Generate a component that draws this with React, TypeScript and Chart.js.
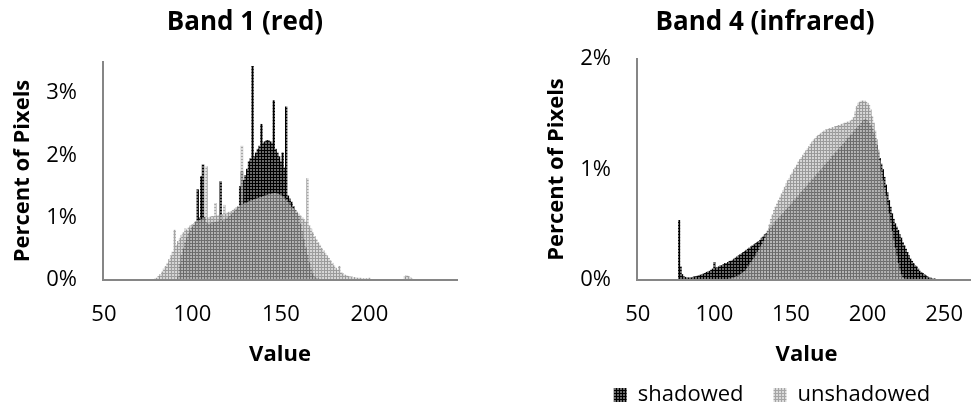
import React, { useEffect, useRef } from "react";
import { Chart, registerables } from "chart.js";

Chart.register(...registerables);

const FONT = '"Open Sans", "Noto Sans", sans-serif';

// ---------- text ----------
const band1Title = "Band 1 (red)";
const band4Title = "Band 4 (infrared)";
const yAxisTitle = "Percent of Pixels";
const xAxisTitle = "Value";
const shadowedName = "shadowed";
const unshadowedName = "unshadowed";

// ---------- tick values ----------
const band1XTicks = [50, 100, 150, 200];
const band1YTicks = [0, 1, 2, 3];
const band4XTicks = [50, 100, 150, 200, 250];
const band4YTicks = [0, 1, 2];

// ---------- Band 1 (red): percent of pixels per integer value ----------
const band1ShadowedStart = 92;
const band1Shadowed = [
  0.05, 0.25, 0.4, 0.5, 0.6, 0.68, 0.75, 0.8, 0.85, 0.88,
  0.93, 1.45, 1.0, 1.66, 1.85, 1.0, 0.92, 0.9, 0.9, 0.92,
  0.92, 0.93, 0.93, 0.95, 1.58, 0.95, 0.96, 0.98, 1.0, 1.02,
  1.05, 1.08, 1.1, 1.14, 1.17, 1.5, 1.74, 1.6, 1.68, 1.78,
  1.9, 1.95, 3.43, 1.98, 2.04, 2.1, 2.15, 2.5, 2.2, 2.22,
  2.24, 2.24, 2.22, 2.2, 2.88, 2.1, 2.04, 1.98, 1.9, 2.04,
  1.8, 2.78, 1.35, 1.3, 1.25, 1.18, 1.12, 1.07, 1.02, 0.9,
  0.78, 0.65, 0.52, 0.4, 0.28, 0.18, 0.1, 0.05, 0.03, 0.02,
  0.01,
];
const band1UnshadowedStart = 78;
const band1Unshadowed = [
  0.01, 0.02, 0.03, 0.06, 0.09, 0.13, 0.18, 0.22, 0.27, 0.33,
  0.39, 0.45, 0.8, 0.56, 0.62, 0.67, 0.72, 0.76, 0.82, 0.8,
  0.84, 0.87, 0.89, 0.91, 0.93, 0.95, 0.96, 0.97, 0.98, 0.99,
  1.82, 1.0, 1.01, 1.02, 1.02, 1.23, 1.03, 1.04, 1.04, 1.05,
  1.2, 1.06, 1.08, 1.09, 1.1, 1.12, 1.14, 1.16, 1.18, 1.2,
  2.15, 1.22, 1.23, 1.24, 1.26, 1.27, 1.28, 1.29, 1.3, 1.31,
  1.32, 1.33, 1.34, 1.35, 1.36, 1.37, 1.38, 1.38, 1.39, 1.39,
  1.38, 1.37, 1.36, 1.34, 1.31, 1.28, 1.25, 1.21, 1.17, 1.14,
  1.12, 1.09, 1.06, 1.03, 1.0, 0.97, 0.93, 1.63, 0.87, 0.82,
  0.76, 0.7, 0.65, 0.6, 0.56, 0.51, 0.47, 0.43, 0.39, 0.35,
  0.31, 0.27, 0.23, 0.19, 0.16, 0.22, 0.12, 0.1, 0.08, 0.07,
  0.06, 0.05, 0.05, 0.04, 0.04, 0.03, 0.03, 0.03, 0.02, 0.02,
  0.02, 0.02, 0.03, 0.01, 0.01, 0.01, 0.01, 0.01, 0.01, 0.01,
  0.01, 0.01, 0.01, 0.01, 0.01, 0.01, 0.01, 0.01, 0.01, 0.01,
  0.01, 0.01, 0.05, 0.07, 0.06, 0.04, 0.02, 0.01,
];

// ---------- Band 4 (infrared) ----------
const band4ShadowedStart = 77;
const band4Shadowed = [
  0.54, 0.12, 0.05, 0.03, 0.025, 0.02, 0.02, 0.02, 0.02, 0.025,
  0.03, 0.03, 0.035, 0.04, 0.045, 0.05, 0.055, 0.06, 0.07, 0.075,
  0.08, 0.09, 0.1, 0.16, 0.11, 0.11, 0.12, 0.13, 0.13, 0.14,
  0.15, 0.15, 0.16, 0.17, 0.17, 0.18, 0.19, 0.2, 0.21, 0.22,
  0.23, 0.24, 0.25, 0.26, 0.27, 0.28, 0.29, 0.3, 0.31, 0.32,
  0.33, 0.34, 0.35, 0.36, 0.38, 0.39, 0.41, 0.42, 0.44, 0.46,
  0.48, 0.49, 0.51, 0.53, 0.54, 0.56, 0.57, 0.59, 0.6, 0.62,
  0.64, 0.65, 0.67, 0.68, 0.7, 0.72, 0.73, 0.75, 0.76, 0.78,
  0.8, 0.81, 0.83, 0.84, 0.86, 0.88, 0.89, 0.91, 0.92, 0.94,
  0.96, 0.97, 0.99, 1.0, 1.02, 1.04, 1.05, 1.07, 1.08, 1.1,
  1.12, 1.13, 1.15, 1.16, 1.18, 1.2, 1.21, 1.23, 1.24, 1.26,
  1.28, 1.29, 1.31, 1.32, 1.34, 1.36, 1.37, 1.39, 1.4, 1.42,
  1.44, 1.45, 1.45, 1.44, 1.42, 1.4, 1.37, 1.33, 1.28, 1.22,
  1.16, 1.1, 1.05, 1.0, 0.93, 0.86, 0.79, 0.72, 0.66, 0.6,
  0.55, 0.51, 0.48, 0.45, 0.41, 0.38, 0.34, 0.31, 0.28, 0.25,
  0.22, 0.19, 0.17, 0.15, 0.13, 0.12, 0.1, 0.08, 0.07, 0.06,
  0.05, 0.04, 0.03, 0.02, 0.02, 0.01, 0.01, 0.01, 0.005, 0.005,
];
const band4UnshadowedStart = 110;
const band4Unshadowed = [
  0.01, 0.01, 0.02, 0.02, 0.03, 0.03, 0.04, 0.05, 0.06, 0.07,
  0.08, 0.1, 0.12, 0.14, 0.16, 0.18, 0.2, 0.22, 0.25, 0.27,
  0.3, 0.32, 0.35, 0.38, 0.41, 0.45, 0.5, 0.55, 0.59, 0.63,
  0.66, 0.69, 0.72, 0.75, 0.78, 0.81, 0.84, 0.87, 0.9, 0.92,
  0.95, 0.97, 1.0, 1.02, 1.04, 1.07, 1.09, 1.11, 1.13, 1.15,
  1.17, 1.19, 1.21, 1.23, 1.25, 1.27, 1.28, 1.3, 1.31, 1.32,
  1.33, 1.34, 1.35, 1.36, 1.36, 1.37, 1.37, 1.38, 1.38, 1.39,
  1.39, 1.4, 1.4, 1.41, 1.41, 1.42, 1.42, 1.43, 1.43, 1.44,
  1.45, 1.47, 1.52, 1.57, 1.6, 1.61, 1.62, 1.62, 1.62, 1.61,
  1.6, 1.58, 1.54, 1.48, 1.42, 1.35, 1.27, 1.18, 1.08, 0.98,
  0.9, 0.83, 0.76, 0.68, 0.6, 0.52, 0.44, 0.36, 0.29, 0.22,
  0.15, 0.09, 0.05, 0.02, 0.01,
];

// ---------- helpers ----------
function toPoints(start: number, values: number[]) {
  return values.map((y, i) => ({ x: start + i, y }));
}

function makePattern(line: string, fill: string) {
  const tile = document.createElement("canvas");
  tile.width = 3;
  tile.height = 3;
  const c = tile.getContext("2d")!;
  c.fillStyle = fill;
  c.fillRect(1, 1, 2, 2);
  c.fillStyle = line;
  c.fillRect(0, 0, 3, 1);
  c.fillRect(0, 1, 1, 2);
  return c.createPattern(tile, "repeat")!;
}

function titlePlugin(text: string, x: number, y: number) {
  return {
    id: "fixedTitle",
    afterDraw(chart: any) {
      const ctx = chart.ctx;
      ctx.save();
      ctx.font = `bold 26px ${FONT}`;
      ctx.fillStyle = "#000";
      ctx.textAlign = "center";
      ctx.textBaseline = "middle";
      ctx.fillText(text, x, y);
      ctx.restore();
    },
  };
}

type HistOpts = {
  title: string;
  titleX: number;
  shadowed: { x: number; y: number }[];
  unshadowed: { x: number; y: number }[];
  shadowFill: CanvasPattern;
  unshadowFill: CanvasPattern;
  xMin: number;
  xMax: number;
  xTicks: number[];
  yMax: number;
  yTicks: number[];
  top: number;
  right: number;
  yWidth: number;
  yTitlePad: number;
  xHeight: number;
  xTitlePadBottom: number;
  legend: boolean;
  spacerWidth: number;
};

function histogramConfig(o: HistOpts): any {
  const tickFont = { family: FONT, size: 22 };
  const titleFont = { family: FONT, size: 22, weight: "bold" as const };
  const axisBorder = { display: true, color: "#868686", width: 2, z: 1 };
  const scales: any = {
    x: {
      type: "linear",
      min: o.xMin,
      max: o.xMax,
      offset: false,
      grid: { display: false, drawTicks: false },
      border: axisBorder,
      ticks: { font: tickFont, color: "#000", padding: 22, autoSkip: false, maxRotation: 0 },
      afterBuildTicks(s: any) {
        s.ticks = o.xTicks.map((value) => ({ value }));
      },
      afterFit(s: any) {
        s.height = o.xHeight;
      },
      title: {
        display: true,
        text: xAxisTitle,
        font: titleFont,
        color: "#000",
        padding: { top: 0, bottom: o.xTitlePadBottom },
      },
    },
    y: {
      type: "linear",
      min: 0,
      max: o.yMax,
      grid: { display: false, drawTicks: false },
      border: axisBorder,
      ticks: {
        font: tickFont,
        color: "#000",
        padding: 26,
        callback: (v: number) => `${v}%`,
      },
      afterBuildTicks(s: any) {
        s.ticks = o.yTicks.map((value) => ({ value }));
      },
      afterFit(s: any) {
        s.width = o.yWidth;
      },
      title: {
        display: true,
        text: yAxisTitle,
        font: titleFont,
        color: "#000",
        padding: { top: o.yTitlePad, bottom: 0 },
      },
    },
  };
  if (o.spacerWidth > 0) {
    scales.spacer = {
      type: "linear",
      position: "right",
      display: true,
      grid: { display: false, drawTicks: false },
      border: { display: false },
      ticks: { display: false },
      afterFit(s: any) {
        s.width = o.spacerWidth;
      },
    };
  }
  return {
    type: "bar",
    data: {
      datasets: [
        {
          label: unshadowedName,
          data: o.unshadowed,
          backgroundColor: o.unshadowFill,
          borderWidth: 0,
          grouped: false,
          barPercentage: 1,
          categoryPercentage: 1,
        },
        {
          label: shadowedName,
          data: o.shadowed,
          backgroundColor: o.shadowFill,
          borderWidth: 0,
          grouped: false,
          barPercentage: 1,
          categoryPercentage: 1,
        },
      ],
    },
    options: {
      animation: false,
      responsive: false,
      devicePixelRatio: 1,
      layout: { padding: { top: o.top, right: o.right, bottom: 0, left: 0 } },
      plugins: {
        tooltip: { enabled: false },
        title: { display: false },
        legend: {
          display: o.legend,
          position: "bottom",
          reverse: true,
          labels: {
            boxWidth: 13,
            boxHeight: 14,
            padding: 30,
            color: "#000",
            font: { family: FONT, size: 22 },
          },
        },
      },
      scales,
    },
    plugins: [titlePlugin(o.title, o.titleX, 23)],
  };
}

export default function App() {
  const leftRef = useRef<HTMLCanvasElement>(null);
  const rightRef = useRef<HTMLCanvasElement>(null);

  useEffect(() => {
    const shadowFill = makePattern("#000000", "#6a6a6a");
    const unshadowFill = makePattern("rgba(135,135,135,0.75)", "rgba(200,200,200,0.68)");

    const left = new Chart(
      leftRef.current!,
      histogramConfig({
        title: band1Title,
        titleX: 245,
        shadowed: toPoints(band1ShadowedStart, band1Shadowed),
        unshadowed: toPoints(band1UnshadowedStart, band1Unshadowed),
        shadowFill,
        unshadowFill,
        xMin: 49.5,
        xMax: 249.5,
        xTicks: band1XTicks,
        yMax: 3.5,
        yTicks: band1YTicks,
        top: 62,
        right: 33,
        yWidth: 103,
        yTitlePad: 9.8,
        xHeight: 136,
        xTitlePadBottom: 47.8,
        legend: false,
        spacerWidth: 0,
      })
    );

    const right = new Chart(
      rightRef.current!,
      histogramConfig({
        title: band4Title,
        titleX: 275,
        shadowed: toPoints(band4ShadowedStart, band4Shadowed),
        unshadowed: toPoints(band4UnshadowedStart, band4Unshadowed),
        shadowFill,
        unshadowFill,
        xMin: 49.5,
        xMax: 270.8,
        xTicks: band4XTicks,
        yMax: 2,
        yTicks: band4YTicks,
        top: 59,
        right: 0,
        yWidth: 147,
        yTitlePad: 53.8,
        xHeight: 74,
        xTitlePadBottom: -14.2,
        legend: true,
        spacerWidth: 78,
      })
    );

    return () => {
      left.destroy();
      right.destroy();
    };
  }, []);

  return (
    <div
      style={{
        position: "absolute",
        left: 0,
        top: 0,
        width: 971,
        height: 412,
        overflow: "hidden",
        background: "#fff",
      }}
    >
      <canvas ref={leftRef} width={490} height={416} style={{ position: "absolute", left: 0, top: 0 }} />
      <canvas ref={rightRef} width={564} height={416} style={{ position: "absolute", left: 490, top: 0 }} />
    </div>
  );
}
